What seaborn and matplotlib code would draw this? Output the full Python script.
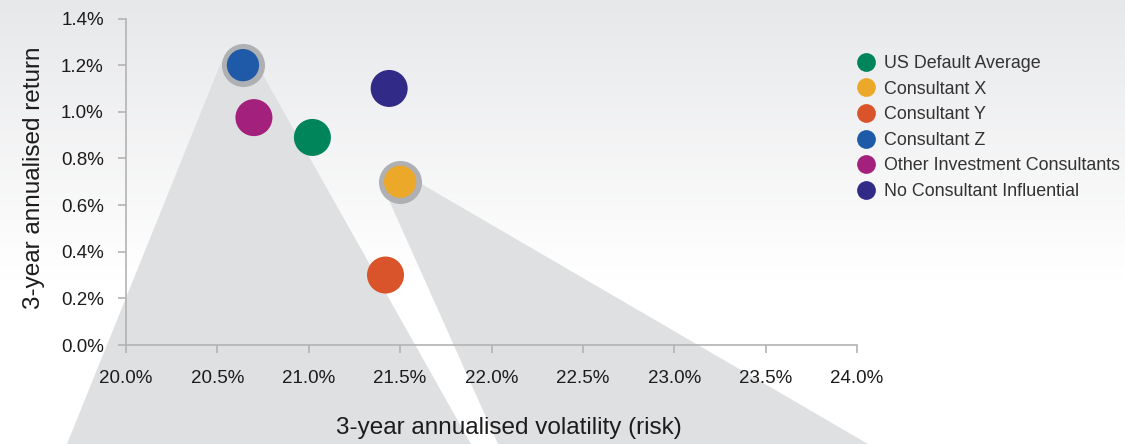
import numpy as np
import pandas as pd
import matplotlib
matplotlib.use("Agg")
import matplotlib.pyplot as plt
import matplotlib.ticker as mticker
from matplotlib.patches import Polygon
from matplotlib.lines import Line2D
import seaborn as sns

# ---- data -------------------------------------------------------------
funds = ["US Default Average", "Consultant X", "Consultant Y",
         "Consultant Z", "Other Investment Consultants",
         "No Consultant Influential"]
volatility = [21.02, 21.50, 21.42, 20.64, 20.70, 21.44]   # % p.a.
annual_return = [0.89, 0.70, 0.30, 1.20, 0.975, 1.10]      # % p.a.
fund_colors = ["#00845a", "#eca829", "#d9532b", "#1e5aa7", "#a3217c", "#322a87"]
highlighted = ["Consultant Z", "Consultant X"]

x_ticks = [20.0, 20.5, 21.0, 21.5, 22.0, 22.5, 23.0, 23.5, 24.0]
y_ticks = [0.0, 0.2, 0.4, 0.6, 0.8, 1.0, 1.2, 1.4]

df = pd.DataFrame({"fund": funds, "volatility": volatility, "return": annual_return})
palette = dict(zip(funds, fund_colors))

# ---- style ------------------------------------------------------------
sns.set_theme(style="white")
plt.rcParams["font.family"] = ["Liberation Sans", "DejaVu Sans"]

W, H = 1125, 444
fig = plt.figure(figsize=(W / 100, H / 100), dpi=100)
fig.patch.set_facecolor("white")

# soft grey-to-white backdrop
bg = fig.add_axes([0, 0, 1, 1], zorder=-10)
rows = np.linspace(0, 1, H)
shade = np.clip(rows / 0.63, 0, 1)
top = np.array([231, 232, 234]) / 255.0
grad = top[None, :] * (1 - shade[:, None]) + shade[:, None] * 1.0
bg.imshow(grad[:, None, :], aspect="auto", extent=[0, 1, 0, 1], origin="upper")
bg.set_axis_off()

ax = fig.add_axes([126 / W, 99 / H, 731 / W, 326.5 / H])
ax.set_facecolor("none")
ax.set_xlim(x_ticks[0], x_ticks[-1])
ax.set_ylim(y_ticks[0], y_ticks[-1])

# ---- points -----------------------------------------------------------
plain = df[~df["fund"].isin(highlighted)]
focus = df[df["fund"].isin(highlighted)]
sns.scatterplot(data=plain, x="volatility", y="return", hue="fund",
                palette=palette, s=710, linewidth=0, legend=False,
                ax=ax, zorder=5)
sns.scatterplot(data=focus, x="volatility", y="return", color="#aeb0b3",
                s=960, linewidth=0, legend=False, ax=ax, zorder=5)
sns.scatterplot(data=focus, x="volatility", y="return", hue="fund",
                palette=palette, s=540, linewidth=0, legend=False,
                ax=ax, zorder=6)

# ---- callout wedges fanning out from the highlighted funds -------------
to_fig = fig.transFigure.inverted()


def callout(fund, left_off, right_off, bottom_left_px, bottom_right_px):
    row = df[df["fund"] == fund].iloc[0]
    cx, cy = ax.transData.transform((row["volatility"], row["return"]))
    pts_px = [
        (cx + left_off[0], cy - left_off[1]),
        (cx, cy),
        (cx + right_off[0], cy - right_off[1]),
        (bottom_right_px, 0),
        (bottom_left_px, 0),
    ]
    pts = to_fig.transform(pts_px)
    poly = Polygon(pts, closed=True, transform=fig.transFigure,
                   facecolor="#dfe0e2", edgecolor="none",
                   clip_on=False, zorder=0.5)
    ax.add_patch(poly)


callout("Consultant Z", (-21, -5), (19, 8), 67, 471)
callout("Consultant X", (-14, 12), (21, 2), 498, 868)

# ---- axes styling -----------------------------------------------------
for side in ["top", "right"]:
    ax.spines[side].set_visible(False)
for side in ["left", "bottom"]:
    ax.spines[side].set_color("#b3b3b3")
    ax.spines[side].set_linewidth(1.2)
    ax.spines[side].set_zorder(2)

ax.set_xticks(x_ticks)
ax.set_yticks(y_ticks)
ax.xaxis.set_major_formatter(mticker.FuncFormatter(lambda v, _: f"{v:.1f}%"))
ax.yaxis.set_major_formatter(mticker.FuncFormatter(lambda v, _: f"{v:.1f}%"))
ax.tick_params(axis="both", which="major", direction="out", length=6,
               width=1.2, color="#b3b3b3", labelsize=13.5, labelcolor="#1c1c1c",
               bottom=True, left=True)
ax.tick_params(axis="x", pad=12)
ax.tick_params(axis="y", pad=10)

ax.set_xlabel("3-year annualised volatility (risk)", fontsize=17.5, color="#1c1c1c")
ax.set_ylabel("3-year annualised return", fontsize=17.5, color="#1c1c1c")
ax.xaxis.set_label_coords((509 - 126) / 731, (16 - 99) / 326.5)
ax.xaxis.label.set_va("center")
ax.yaxis.set_label_coords((34 - 126) / 731, (345 - 178) / 326.5)
ax.yaxis.label.set_va("center")

# ---- legend -----------------------------------------------------------
handles = [Line2D([0], [0], marker="o", linestyle="none", markersize=13.5,
                  markerfacecolor=c, markeredgewidth=0, label=f)
           for f, c in zip(funds, fund_colors)]
leg = fig.legend(handles=handles, loc="upper left",
                 bbox_to_anchor=(857 / W, 1 - 55 / H), frameon=False,
                 fontsize=12.9, labelcolor="#333333", handlelength=1.0,
                 handletextpad=0.52, labelspacing=0.48, borderpad=0,
                 borderaxespad=0)

fig.savefig("out.png", dpi=100)
